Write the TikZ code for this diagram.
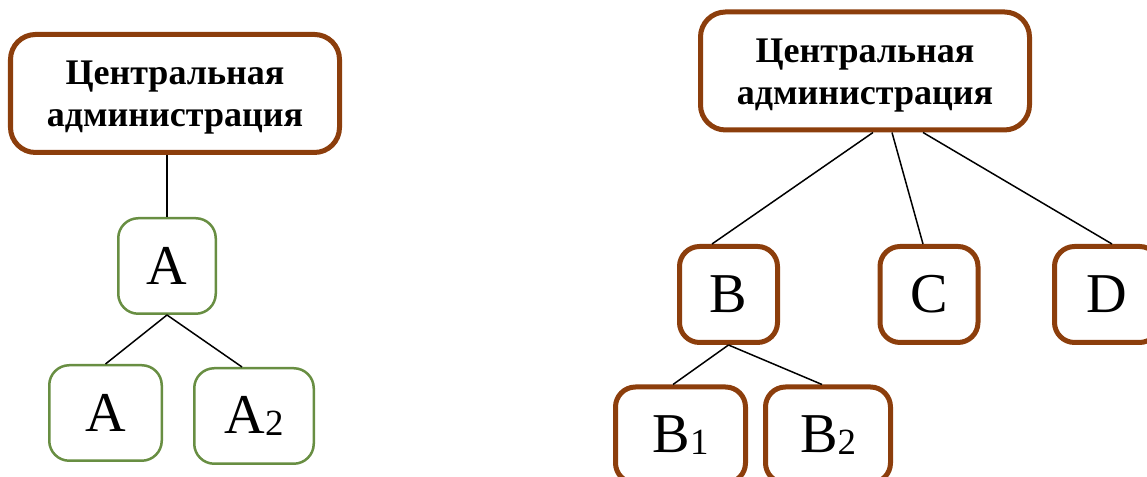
\documentclass[tikz,border=0pt]{standalone}
\usepackage{fontspec}
\setmainfont{Liberation Serif}
\usetikzlibrary{positioning}

\definecolor{admbrown}{RGB}{140,62,12}
\definecolor{unitgreen}{RGB}{104,142,66}

% small lowered index after a letter
\newcommand{\idx}[1]{\raisebox{-1.2pt}{\fontsize{21}{21}\selectfont #1}}

\begin{document}
\begin{tikzpicture}[
    admin/.style={rectangle, draw=admbrown, line width=0.1cm, rounded corners=0.5cm, fill=white,
        minimum width=6.58cm, minimum height=2.36cm, align=center,
        text height=38pt, text depth=0pt,
        font=\fontsize{20.5}{24}\selectfont\bfseries},
    unit/.style={rectangle, draw=admbrown, line width=0.1cm, rounded corners=0.4cm, fill=white,
        minimum width=1.96cm, minimum height=1.92cm, font=\fontsize{32}{36}\selectfont},
    gunit/.style={unit, draw=unitgreen, line width=0.05cm, minimum width=1.95cm, minimum height=1.91cm},
    link/.style={draw, black, line width=0.03cm}
]
    \useasboundingbox (0,0) rectangle (22.94,9.54);

    %% LEFT TREE
    \node [admin] (adminL) at (3.50,7.67) {Центральная\\администрация};
    \node [gunit] (aTop) at (3.34,4.22) {A};
    \node [gunit, minimum width=2.25cm] (aOne) at (2.11,1.28) {A};
    \node [gunit, minimum width=2.39cm] (aTwo) at (5.08,1.22) {A\idx{2}};

    % Paths
    \path [link] (adminL.south -| aTop.north) -- (aTop.north);
    \path [link] (aTop.south) -- (aOne.north);
    \path [link] (aTop.south) -- ([xshift=-0.24cm]aTwo.north);

    %% RIGHT TREE
    \node [admin] (adminR) at (17.30,8.12) {Центральная\\администрация};
    \node [unit] (b) at (14.57,3.65) {B};
    \node [unit] (c) at (18.58,3.65) {C};
    \node [unit, minimum width=2.1cm] (d) at (22.14,3.65) {D};
    \node [unit, minimum width=2.6cm] (bOne) at (13.61,0.84) {B\idx{1}};
    \node [unit, minimum width=2.5cm] (bTwo) at (16.56,0.84) {B\idx{2}};

    % Paths
    \path [link] ([xshift=0.16cm]adminR.south) -- ([xshift=-0.33cm]b.north);
    \path [link] ([xshift=0.54cm]adminR.south) -- ([xshift=-0.12cm]c.north);
    \path [link] ([xshift=1.16cm]adminR.south) -- ([xshift=0.1cm]d.north);
    \path [link] (b.south) -- ([xshift=-0.15cm]bOne.north);
    \path [link] (b.south) -- ([xshift=-0.12cm]bTwo.north);

\end{tikzpicture}
\end{document}
